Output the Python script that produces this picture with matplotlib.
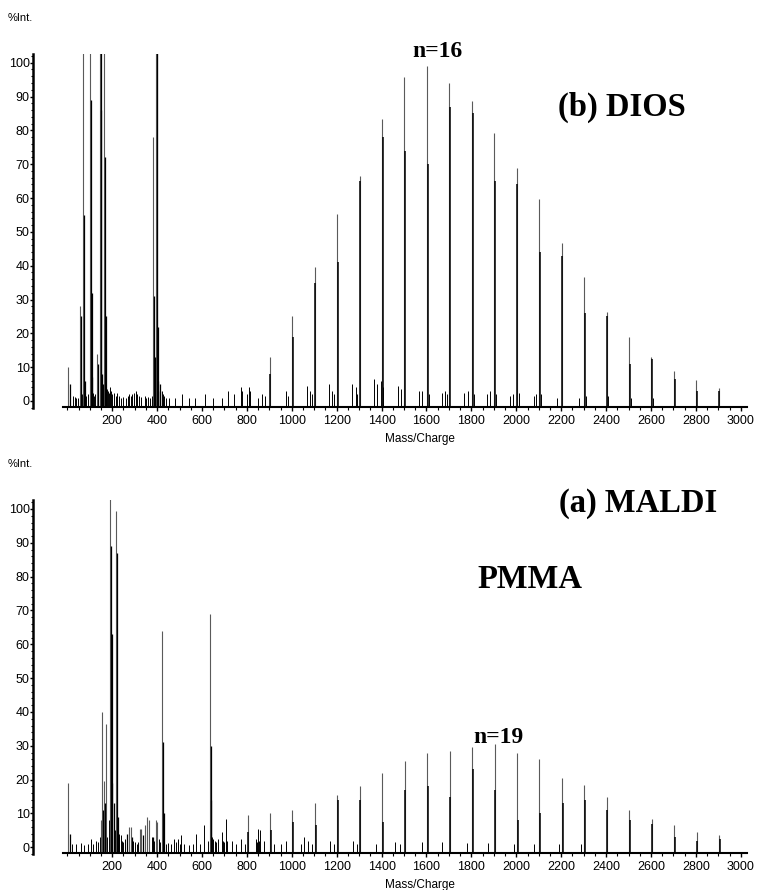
import matplotlib
matplotlib.use("Agg")
import matplotlib.pyplot as plt
from matplotlib.ticker import MultipleLocator, FixedLocator

# ---------------- DATA ----------------
# (b) DIOS spectrum (top panel)
dios_series_mz = [902, 1002, 1102, 1202, 1302, 1402, 1502, 1602, 1702, 1802, 1902,
                  2002, 2102, 2202, 2302, 2402, 2502, 2602, 2702, 2802, 2902]
dios_series_int = [13.0, 25.2, 39.5, 55.2, 66.6, 83.4, 95.7, 99.0, 94.0, 88.7, 79.1,
                   68.8, 59.6, 46.6, 36.6, 26.4, 18.8, 13.0, 8.9, 6.2, 3.9]
dios_series_iso = [8.0, 19.0, 35.0, 41.0, 65.0, 78.0, 74.0, 70.0, 87.0, 85.0, 65.0,
                   64.0, 44.0, 43.0, 26.0, 25.0, 11.0, 12.5, 6.5, 3.0, 3.0]
dios_low_mz = [4, 56, 72, 99, 130, 144, 163, 381, 394, 399]
dios_low_int = [10, 28, 110, 110, 14, 110, 110, 78, 110, 110]
dios_low_iso_mz = [9, 59, 74, 77, 104, 107, 110, 133, 146, 148, 153, 156, 167, 170,
                   384, 387, 396, 401, 404, 409, 412]
dios_low_iso_int = [5, 25, 55, 6, 89, 32, 7, 11, 110, 86, 8, 5, 72, 25,
                    31, 13, 110, 22, 6, 5, 3]
dios_minor_mz = [25, 32, 40, 48, 62, 66, 80, 85, 90, 115, 120, 125, 138, 160, 175, 180,
                 185, 190, 195, 200, 210, 215, 222, 230, 240, 250, 262, 270, 275, 282,
                 290, 296, 305, 310, 318, 330, 345, 352, 360, 368, 375, 415, 420, 425,
                 430, 440, 455, 480, 510, 540, 570, 612, 650, 690, 716, 741, 773, 778,
                 800, 808, 815, 850, 868, 880,
                 972, 985, 1067, 1080, 1090, 1167, 1180, 1187, 1268, 1284, 1292, 1368,
                 1380, 1397, 1408, 1471, 1486, 1566, 1580, 1610, 1668, 1683, 1690, 1769,
                 1784, 1810, 1868, 1882, 1910, 1972, 1985, 2010, 2081, 2090, 2110, 2181,
                 2279, 2310, 2410, 2510, 2610]
dios_minor_int = [1.5, 1.2, 0.8, 1.0, 1.5, 2, 3, 1.5, 2, 2.5, 1.5, 2, 4, 4, 3.5, 3,
                  2.5, 4, 3, 2, 2.5, 1.5, 2.5, 1.5, 1, 1.2, 1, 1.5, 2, 1.5,
                  2, 2.5, 3, 2, 1.5, 1.2, 1.5, 1, 1.2, 1, 1.5, 4, 3, 2,
                  1.5, 1, 0.8, 1, 2, 0.8, 1, 2, 0.8, 1, 3, 2, 4, 3,
                  2, 4, 3, 1, 2, 1.5,
                  3, 1.5, 4.5, 3, 2, 5, 3, 2, 5, 4, 2, 6.5,
                  5, 6, 4, 4.5, 3.5, 3, 3, 2, 2.5, 3, 2, 2.5,
                  3, 2, 2, 3, 2, 1.5, 2, 2.5, 1.5, 2, 2, 1,
                  1, 1.5, 1.5, 1, 1]

# (a) MALDI spectrum (bottom panel)
maldi_series_mz = [803, 903, 1003, 1103, 1203, 1303, 1403, 1503, 1603, 1703, 1803,
                   1903, 2003, 2103, 2203, 2303, 2403, 2503, 2603, 2703, 2803, 2903]
maldi_series_int = [9.5, 10.0, 11.0, 13.0, 15.5, 18.0, 22.0, 25.5, 28.0, 28.5, 29.5,
                    30.5, 28.0, 26.0, 20.5, 18.5, 15.0, 11.0, 8.5, 6.5, 4.5, 3.5]
maldi_series_iso = [4.5, 5.0, 7.5, 6.5, 14.0, 14.0, 7.5, 17.0, 18.0, 15.0, 23.0,
                    17.0, 8.0, 10.0, 13.0, 14.0, 11.0, 8.0, 7.0, 3.0, 2.0, 2.5]
maldi_low_mz = [5, 148, 154, 164, 173, 189, 216, 275, 282, 322, 329, 344, 356, 362,
                393, 400, 422, 635]
maldi_low_int = [19, 8, 40, 19.5, 36.5, 103, 99.5, 6, 6, 5.5, 5.5, 6.5, 9, 8,
                 8, 7.5, 64, 69]
maldi_low_iso_mz = [9, 157, 167, 193, 196, 199, 204, 220, 223, 263, 288, 337, 381,
                    425, 427, 638, 639]
maldi_low_iso_int = [4, 11, 13, 89, 63, 19, 13, 87, 9, 4, 3, 3.5, 3,
                     31, 10, 30, 14]
maldi_minor_mz = [20, 40, 60, 75, 90, 105, 115, 127, 138, 145, 160, 170, 177, 185, 208,
                  212, 228, 232, 238, 245, 250, 255, 268, 292, 300, 310, 315, 348, 366,
                  376, 386, 410, 415, 440, 450, 460, 474, 483, 492, 500, 507, 520, 540,
                  560, 575, 590, 607, 625, 645, 650, 657, 662, 672, 687, 692, 700, 709,
                  713, 733, 750, 775, 790, 840, 845, 851, 856, 860, 876, 920, 950, 976,
                  1040, 1056, 1074, 1090, 1171, 1190, 1272, 1290, 1375, 1460, 1480, 1580,
                  1670, 1780, 1875, 1990, 2080, 2190, 2290]
maldi_minor_int = [1, 1, 1.2, 0.8, 1, 2.5, 1, 2, 1.5, 3, 5, 4, 3, 8, 6,
                   5, 4, 3, 3.5, 2, 1.5, 2.5, 2, 2, 1.5, 1, 1.5, 3, 2,
                   3, 2, 2.5, 1.5, 1, 1.2, 1, 2.5, 1.5, 2.5, 1, 3.5, 1, 0.8,
                   1, 4, 1, 6.5, 2, 3, 2.5, 2, 1.5, 2.5, 4.5, 2, 1.5, 8.5,
                   2, 2, 1, 2.5, 1, 2.5, 1.5, 5.5, 2, 5, 2, 1, 1, 2,
                   1, 3, 2, 1, 2, 1, 2, 1, 1, 1.5, 1, 1.5,
                   1.5, 1.2, 1.3, 1, 1, 1, 1]

x_ticks = list(range(200, 3001, 200))
x_minor_ticks = list(range(0, 3001, 50))
y_ticks = list(range(0, 101, 10))

# ---------------- FIGURE ----------------
W, H = 759, 890
fig = plt.figure(figsize=(W / 100, H / 100), dpi=100)
SANS = ["Liberation Sans", "DejaVu Sans"]
SERIF = ["Liberation Serif", "DejaVu Serif"]

YLO, YHI = -2.1, 102.6
XLO, XHI = -152, 3030
BASE = -1.7


def make_axes(bottom_px):
    left = 33.2
    width = 714.3
    height = 354.2
    ax = fig.add_axes([left / W, (H - bottom_px) / H, width / W, height / H])
    ax.set_xlim(XLO, XHI)
    ax.set_ylim(YLO, YHI)
    for s in ("top", "right"):
        ax.spines[s].set_visible(False)
    ax.spines["left"].set_linewidth(1.8)
    ax.spines["bottom"].set_linewidth(1.5)
    ax.spines["bottom"].set_position(("data", BASE))
    ax.spines["bottom"].set_bounds(-20, 3028)
    ax.xaxis.set_major_locator(FixedLocator(x_ticks))
    ax.xaxis.set_minor_locator(FixedLocator(x_minor_ticks))
    ax.yaxis.set_major_locator(FixedLocator(y_ticks))
    ax.yaxis.set_minor_locator(MultipleLocator(2))
    ax.tick_params(axis="x", which="major", length=3, width=1, pad=3,
                   labelsize=9)
    ax.tick_params(axis="x", which="minor", length=2, width=0.8)
    ax.tick_params(axis="y", which="major", length=2, width=1, pad=0.5,
                   labelsize=9)
    ax.tick_params(axis="y", which="minor", length=1.5, width=0.8)
    for lab in ax.get_xticklabels() + ax.get_yticklabels():
        lab.set_family(SANS)
    return ax


def draw(ax, mz, inten, color, lw):
    ax.vlines(mz, BASE, inten, colors=color, linewidth=lw)


# top panel (DIOS)
ax1 = make_axes(408.1)
draw(ax1, dios_minor_mz, dios_minor_int, "black", 0.7)
draw(ax1, dios_low_mz, dios_low_int, "#5a5a5a", 0.8)
draw(ax1, [m + 2 for m in dios_low_iso_mz], dios_low_iso_int, "black", 0.9)
draw(ax1, dios_series_mz, dios_series_int, "#5a5a5a", 0.8)
draw(ax1, [m + 3 for m in dios_series_mz], dios_series_iso, "black", 1.1)

# bottom panel (MALDI)
ax2 = make_axes(854.4)
draw(ax2, maldi_minor_mz, maldi_minor_int, "black", 0.7)
draw(ax2, maldi_low_mz, maldi_low_int, "#5a5a5a", 0.8)
draw(ax2, [m + 2 for m in maldi_low_iso_mz], maldi_low_iso_int, "black", 0.9)
draw(ax2, maldi_series_mz, maldi_series_int, "#5a5a5a", 0.8)
draw(ax2, [m + 3 for m in maldi_series_mz], maldi_series_iso, "black", 1.1)


def ftext(x, y, s, **kw):
    fig.text(x / W, 1 - y / H, s, **kw)


for off in (0, 446.3):
    ftext(8, 21 + off, "%Int.", family=SANS, fontsize=8, ha="left", va="baseline")
    ftext(420, 442 + off, "Mass/Charge", family=SANS, fontsize=8.5, ha="center",
          va="baseline")

ftext(437, 57, "n=16", family=SERIF, fontweight="bold", fontsize=17,
      ha="center", va="baseline")
ftext(622, 116, "(b) DIOS", family=SERIF, fontweight="bold", fontsize=23.5,
      ha="center", va="baseline")
ftext(638, 511.5, "(a) MALDI", family=SERIF, fontweight="bold", fontsize=23.5,
      ha="center", va="baseline")
ftext(530, 587.5, "PMMA", family=SERIF, fontweight="bold", fontsize=23.5,
      ha="center", va="baseline")
ftext(498, 743, "n=19", family=SERIF, fontweight="bold", fontsize=17,
      ha="center", va="baseline")

fig.savefig("out.png", dpi=100)
